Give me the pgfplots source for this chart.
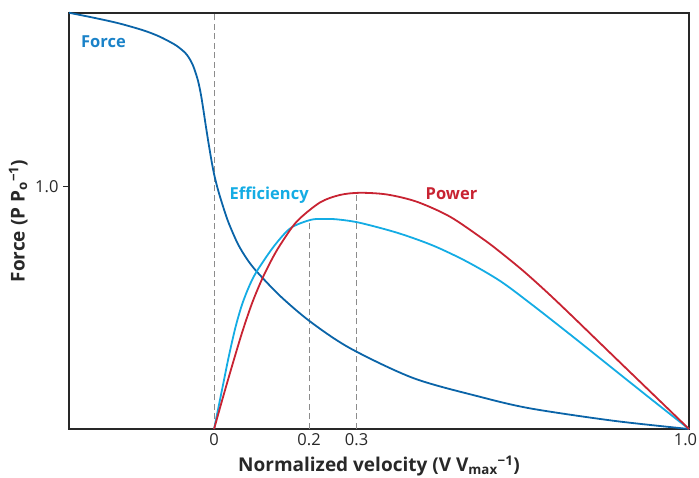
\documentclass[border=0pt]{standalone}
\usepackage{fontspec}
\setmainfont{Open Sans}
\usepackage{pgfplots}
\pgfplotsset{compat=1.18}
\definecolor{forceline}{RGB}{10,100,168}
\definecolor{forcelab}{RGB}{26,130,200}
\definecolor{effline}{RGB}{20,172,228}
\definecolor{powline}{RGB}{200,35,50}
\definecolor{dashgray}{RGB}{140,140,140}
\definecolor{axisgray}{RGB}{40,40,40}
\begin{document}
\begin{tikzpicture}
\useasboundingbox (-69pt,-49pt) rectangle (630pt,429pt);
\begin{axis}[
  at={(0,0)}, anchor=south west,
  width=620pt, height=416pt, scale only axis,
  xmin=-0.3055, xmax=1.0, ymin=0, ymax=1.719,
  axis line style={axisgray, line width=1.1pt},
  xtick={0,0.2,0.3,1.0},
  xticklabels={0,0.2,0.3,{\kern-7pt 1.0}},
  ytick={1.0}, yticklabels={1.0},
  ytick pos=left, xtick pos=bottom,
  tick style={axisgray, line width=1pt},
  xtick style={draw=none},
  ytick align=outside, major tick length=6pt,
  tick label style={font=\fontsize{16.5}{18}\selectfont, text=axisgray},
  xticklabel style={yshift=-1pt},
  yticklabel style={xshift=-1pt},
  xlabel={\textbf{Normalized velocity (V V\textsubscript{max}\textsuperscript{−1})}},
  ylabel={\textbf{Force (P P\textsubscript{o}\textsuperscript{−1})}},
  label style={font=\fontsize{19}{21}\selectfont, text=axisgray},
  xlabel style={at={(axis description cs:0.5,-0.089)}, anchor=center},
  ylabel style={at={(axis description cs:-0.082,0.5)}, anchor=center},
  clip=false,
]
% dashed guides
\addplot[dashgray, line width=1.1pt, dash pattern=on 6pt off 3.5pt] coordinates {(0,0) (0,1.719)};
\addplot[dashgray, line width=1.1pt, dash pattern=on 6pt off 3.5pt] coordinates {(0.2,0) (0.2,0.864)};
\addplot[dashgray, line width=1.1pt, dash pattern=on 6pt off 3.5pt] coordinates {(0.3,0) (0.3,0.976)};
% force
\addplot[forceline, line width=1.8pt, smooth, tension=0.5] coordinates {
(-0.3055,1.720) (-0.25,1.698) (-0.20,1.676) (-0.15,1.648) (-0.12,1.626)
(-0.10,1.607) (-0.08,1.585) (-0.065,1.562) (-0.058,1.548) (-0.052,1.531)
(-0.047,1.513) (-0.042,1.490) (-0.034,1.440) (-0.028,1.385) (-0.023,1.325)
(-0.018,1.260) (-0.012,1.185) (-0.006,1.115) (0.0,1.053) (0.008,0.990)
(0.018,0.925) (0.03,0.855) (0.05,0.765) (0.07,0.700) (0.091,0.648) (0.14,0.548)
(0.203,0.443) (0.287,0.333) (0.420,0.210) (0.560,0.133) (0.666,0.085)
(0.841,0.034) (1.0,0.0)};
% efficiency
\addplot[effline, line width=1.8pt, smooth, tension=0.5] coordinates {
(0,0) (0.017,0.165) (0.031,0.300) (0.045,0.420) (0.059,0.515) (0.075,0.595)
(0.091,0.655) (0.126,0.755) (0.161,0.830) (0.203,0.864) (0.230,0.868)
(0.260,0.866) (0.307,0.852) (0.387,0.810) (0.461,0.758) (0.532,0.692)
(0.602,0.612) (0.666,0.519) (0.75,0.390) (0.833,0.260) (0.916,0.130) (1.0,0.0)};
% power
\addplot[powline, line width=1.8pt, smooth, tension=0.5] coordinates {
(0,0) (0.02,0.140) (0.04,0.275) (0.06,0.405) (0.08,0.520) (0.10,0.615)
(0.12,0.695) (0.139,0.760) (0.174,0.857) (0.223,0.936) (0.265,0.967)
(0.307,0.976) (0.364,0.969) (0.427,0.939) (0.497,0.877) (0.567,0.784)
(0.60,0.735) (0.65,0.655) (0.70,0.567) (0.75,0.474) (0.85,0.284) (1.0,0.0)};
\node[text=forcelab, font=\bfseries\fontsize{16.5}{18}\selectfont] at (axis cs:-0.233,1.599) {Force};
\node[text=effline, font=\bfseries\fontsize{16.5}{18}\selectfont] at (axis cs:0.116,0.967) {Efficiency};
\node[text=powline, font=\bfseries\fontsize{16.5}{18}\selectfont] at (axis cs:0.5,0.971) {Power};
\end{axis}
\end{tikzpicture}
\end{document}
